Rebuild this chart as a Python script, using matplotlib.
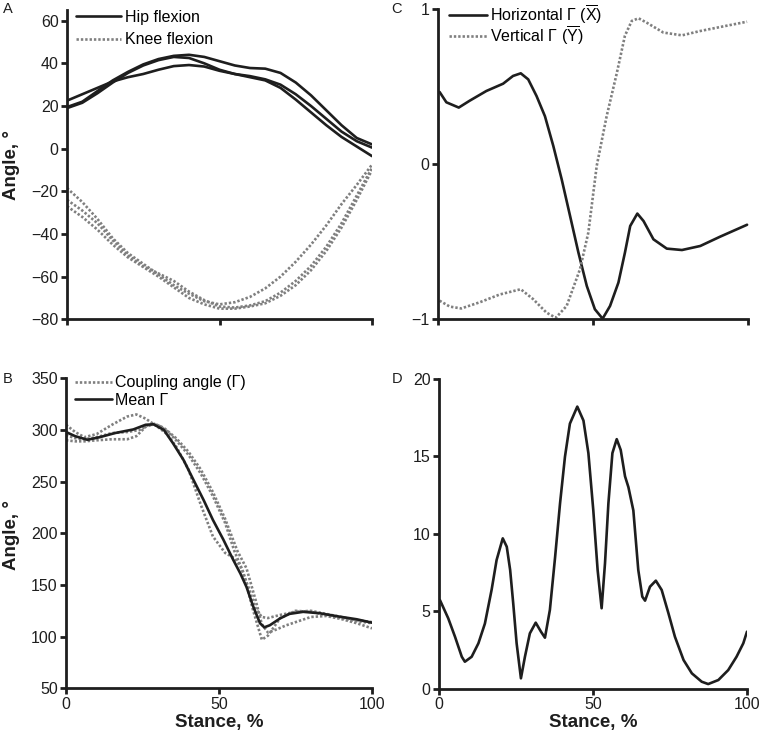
import matplotlib
matplotlib.use('Agg')
import matplotlib.pyplot as plt

plt.rcParams['font.family'] = ['Liberation Sans', 'DejaVu Sans']
plt.rcParams['mathtext.fontset'] = 'custom'
plt.rcParams['mathtext.rm'] = 'Liberation Sans'
plt.rcParams['mathtext.it'] = 'Liberation Sans:italic'
plt.rcParams['mathtext.bf'] = 'Liberation Sans:bold'

# ---------------- Data ----------------
# Panel A: hip and knee flexion (three trials each)
stance_a = [0, 5, 10, 15, 20, 25, 30, 35, 40, 45, 50, 55, 60, 65, 70, 75, 80, 85, 90, 95, 100]
hip_1 = [19.5, 22, 27, 32, 36, 39.5, 42, 43.5, 44, 43, 41, 39, 37.8, 37.5, 35.5, 31, 25, 18, 11, 5, 2]
hip_2 = [19, 21.5, 26, 31, 35.5, 39, 41.5, 43, 42.5, 40, 37, 35, 33.5, 32, 28.5, 23, 17, 11, 5.5, 1, -3.5]
hip_3 = [22.5, 25.5, 28.5, 31.5, 33.5, 35, 37, 38.7, 39.2, 38.5, 36.5, 35, 34, 32.5, 30, 25.5, 20, 14, 8, 3.5, 0.5]
knee_1 = [-18.5, -25, -33, -42, -49, -54, -59, -64, -68, -71.5, -73, -72, -69.5, -65.5, -60, -53, -45, -36, -26, -17, -7.5]
knee_2 = [-24, -29, -35, -43, -50, -55, -58.5, -62, -67, -71, -74, -74.5, -73.5, -71.5, -67.5, -62, -55, -46, -35, -22, -9]
knee_3 = [-27, -32, -38, -45, -51, -55.5, -60, -65, -70, -73, -75, -75, -74, -72.5, -69, -64, -57, -48, -37, -24, -10]

# Panel B: coupling angles (three trials, dotted) and mean
stance_b1 = [0, 3, 6, 10, 15, 20, 23, 26, 30, 33, 36, 40, 44, 48, 52, 55, 57, 60, 62, 64, 66, 70, 75, 80, 85, 90, 95, 100]
gamma_1 = [305, 298, 293, 296, 305, 313, 315, 311, 303, 296, 284, 262, 228, 197, 181, 176, 168, 145, 127, 119, 118, 121, 124, 125, 122, 119, 116, 114]
stance_b2 = [0, 3, 6, 10, 15, 20, 24, 27, 30, 33, 36, 40, 44, 48, 52, 55, 58, 61, 64, 66, 70, 75, 80, 85, 90, 95, 100]
gamma_2 = [295, 292, 291, 293, 297, 298, 300, 305, 305, 299, 290, 276, 258, 236, 210, 183, 162, 127, 97, 101, 118, 125, 124, 121, 118, 115, 113]
stance_b3 = [0, 3, 6, 10, 15, 20, 23, 26, 29, 32, 36, 40, 44, 48, 52, 56, 59, 62, 64, 66, 68, 72, 76, 80, 85, 90, 95, 100]
gamma_3 = [290, 289, 289, 290, 291, 291, 294, 303, 306, 302, 292, 279, 262, 240, 214, 183, 166, 135, 112, 104, 106, 111, 115, 119, 120, 117, 113, 108]
stance_bm = [0, 3, 7, 11, 16, 22, 26, 28.6, 32, 35, 38.4, 41.6, 45, 48, 51.4, 54.7, 57, 59, 61.2, 63.4, 64.8, 66.6, 70, 73, 77.5, 83, 89.5, 95, 100]
gamma_mean = [298, 294, 290.5, 293, 297, 300.5, 305, 305.5, 300, 287, 271, 252, 232, 213, 194, 174, 161, 148, 129, 113, 109, 111, 117.7, 122, 124, 122.6, 119.3, 116.8, 113.5]

# Panel C: horizontal and vertical components
stance_ch = [0.5, 2.7, 6.7, 10.2, 15.6, 21, 24.2, 26.7, 29.1, 31.8, 34.5, 37.2, 39.9, 42.6, 45.3, 48, 50.6, 53.1, 55.5, 58.2, 60.3, 62, 64.3, 66.3, 69.5, 73.8, 78.7, 84.6, 91, 99.7]
horizontal = [0.467, 0.40, 0.366, 0.41, 0.473, 0.52, 0.57, 0.587, 0.548, 0.44, 0.31, 0.118, -0.097, -0.333, -0.57, -0.785, -0.935, -0.996, -0.914, -0.763, -0.57, -0.398, -0.318, -0.366, -0.484, -0.544, -0.553, -0.527, -0.467, -0.39]
stance_cv = [0.5, 3.8, 7.5, 13.5, 19.9, 26.7, 30.7, 35, 38, 41.5, 45.8, 48.5, 51.2, 54.4, 57.7, 60.3, 62.5, 64.7, 67.3, 72.7, 78.7, 84.6, 92.1, 99.7]
vertical = [-0.88, -0.918, -0.93, -0.89, -0.84, -0.806, -0.87, -0.957, -0.99, -0.914, -0.677, -0.44, -0.01, 0.31, 0.59, 0.83, 0.925, 0.942, 0.914, 0.85, 0.832, 0.86, 0.89, 0.92]

# Panel D: variability
stance_d = [0.3, 3.0, 5.2, 7.4, 8.4, 10.6, 12.8, 14.9, 17.1, 18.7, 20.7, 22.0, 23.1, 24.1, 25.2, 26.6,
            27.9, 29.5, 31.4, 33.1, 34.4, 36.0, 37.7, 39.3, 40.9, 42.5, 44.9, 46.9, 48.5, 50.1, 51.5,
            52.8, 53.9, 55.0, 56.3, 57.7, 59.0, 60.4, 61.5, 63.1, 64.7, 66.0, 66.9, 68.5, 70.4, 72.3,
            74.5, 76.6, 79.4, 82.1, 85.3, 87.4, 90.7, 93.9, 96.6, 98.8, 100]
variability = [5.72, 4.54, 3.35, 2.06, 1.74, 2.06, 2.93, 4.2, 6.4, 8.3, 9.7, 9.16, 7.66, 5.5, 2.93, 0.67,
               2.06, 3.57, 4.26, 3.68, 3.29, 5.08, 8.5, 11.96, 14.97, 17.1, 18.2, 17.3, 15.2, 11.5, 7.66,
               5.19, 8.1, 11.96, 15.2, 16.1, 15.4, 13.7, 13.0, 11.5, 7.66, 5.94, 5.68, 6.58, 6.97, 6.37,
               4.86, 3.35, 1.85, 0.99, 0.45, 0.3, 0.56, 1.2, 2.06, 2.93, 3.68]

x_ticks = [0, 50, 100]
yticks_a = [-80, -60, -40, -20, 0, 20, 40, 60]
yticks_b = [50, 100, 150, 200, 250, 300, 350]
yticks_c = [-1, 0, 1]
yticks_d = [0, 5, 10, 15, 20]

# ---------------- Styling ----------------
W, H = 760, 735
fig = plt.figure(figsize=(W / 100, H / 100), dpi=100)

def px_axes(l, t, r, b):
    return fig.add_axes([l / W, 1 - b / H, (r - l) / W, (b - t) / H])

INK = '#1e1e1e'
GREY = '#7f7f7f'
SOLID = dict(color=INK, lw=1.9, solid_capstyle='round', solid_joinstyle='round')
DOT = dict(color=GREY, lw=1.9, dashes=(0.9, 0.75))

def style(ax, yticks, ylim, xlabels=True):
    for s in ('top', 'right'):
        ax.spines[s].set_visible(False)
    for s in ('left', 'bottom'):
        ax.spines[s].set_linewidth(2.0)
        ax.spines[s].set_color(INK)
    ax.set_xlim(0, 100)
    ax.set_ylim(*ylim)
    ax.set_xticks(x_ticks)
    ax.set_yticks(yticks)
    ax.tick_params(direction='out', length=4.5, width=2.0, color=INK,
                   labelsize=11.5, labelcolor=INK, pad=1.5)
    if not xlabels:
        ax.set_xticklabels([])

axA = px_axes(67, 10, 372, 319.3)
axC = px_axes(438, 9.3, 748, 319.3)
axB = px_axes(66, 378.3, 372, 688.3)
axD = px_axes(439, 378.7, 747, 688.7)

# Panel A
axA.plot(stance_a, hip_1, label='Hip flexion', **SOLID)
axA.plot(stance_a, hip_2, **SOLID)
axA.plot(stance_a, hip_3, **SOLID)
axA.plot(stance_a, knee_1, label='Knee flexion', **DOT)
axA.plot(stance_a, knee_2, **DOT)
axA.plot(stance_a, knee_3, **DOT)
style(axA, yticks_a, (-80, 65), xlabels=False)
axA.legend(loc='upper left', bbox_to_anchor=(0.03, 1.0), frameon=False,
           fontsize=11.5, handlelength=2.8, handletextpad=0.25,
           labelspacing=0.45, borderpad=0, borderaxespad=0)

# Panel C
axC.plot(stance_ch, horizontal, label=r'Horizontal Γ ($\overline{\mathrm{X}}$)', clip_on=False, **SOLID)
axC.plot(stance_cv, vertical, label=r'Vertical Γ ($\overline{\mathrm{Y}}$)', clip_on=False, **DOT)
style(axC, yticks_c, (-1, 1), xlabels=False)
axC.legend(loc='upper left', bbox_to_anchor=(0.035, 1.02), frameon=False,
           fontsize=11.5, handlelength=2.4, handletextpad=0.2,
           labelspacing=-0.15, borderpad=0, borderaxespad=0)

# Panel B
axB.plot(stance_b1, gamma_1, label='Coupling angle (Γ)', **DOT)
axB.plot(stance_b2, gamma_2, **DOT)
axB.plot(stance_b3, gamma_3, **DOT)
axB.plot(stance_bm, gamma_mean, label='Mean Γ', **SOLID)
style(axB, yticks_b, (50, 350))
axB.legend(loc='upper left', bbox_to_anchor=(0.03, 1.01), frameon=False,
           fontsize=11.5, handlelength=2.3, handletextpad=0.2,
           labelspacing=0.15, borderpad=0, borderaxespad=0)

# Panel D
axD.plot(stance_d, variability, **SOLID)
style(axD, yticks_d, (0, 20))

# Axis titles and panel letters
def ftext(x, y, s, **kw):
    fig.text(x / W, 1 - y / H, s, **kw)

ftext(12, 165, 'Angle, °', rotation=90, ha='center', va='center', fontsize=13.5, fontweight='bold', color=INK)
ftext(12, 535, 'Angle, °', rotation=90, ha='center', va='center', fontsize=13.5, fontweight='bold', color=INK)
ftext(219, 722, 'Stance, %', ha='center', va='center', fontsize=13.5, fontweight='bold', color=INK)
ftext(593, 722, 'Stance, %', ha='center', va='center', fontsize=13.5, fontweight='bold', color=INK)
for lx, ly, letter in [(8, 9, 'A'), (8, 379, 'B'), (397, 9, 'C'), (397, 379, 'D')]:
    ftext(lx, ly, letter, ha='center', va='center', fontsize=10.5, color=INK)

fig.savefig('out.png', dpi=100)
